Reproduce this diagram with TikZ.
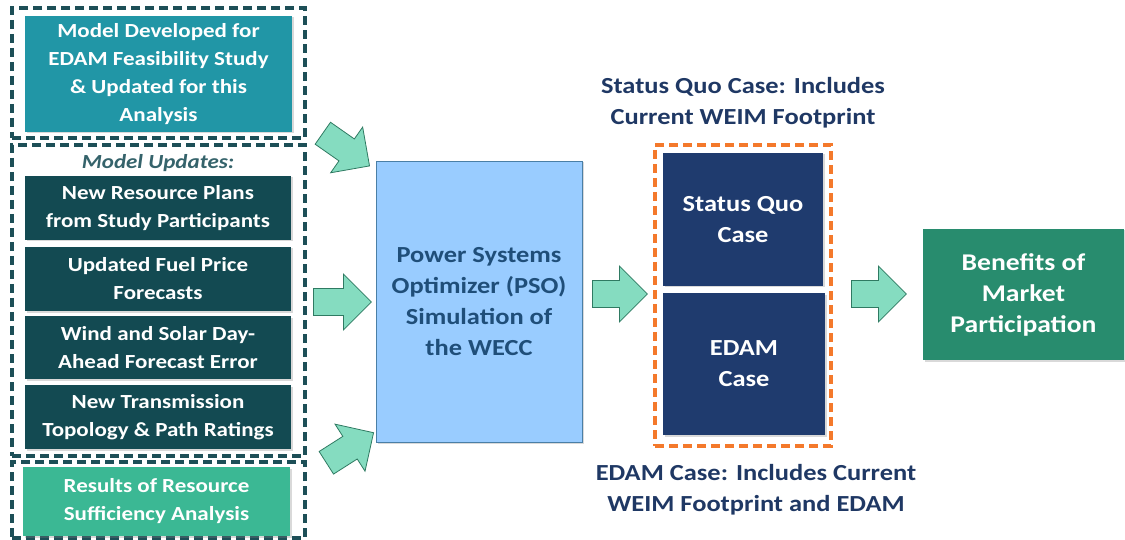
\documentclass[tikz,border=0pt]{standalone}
\usepackage{fontspec}
\setmainfont{Carlito}[FakeStretch=1.15]
\usepackage{xcolor}
\usetikzlibrary{shapes.arrows,shadows}
\definecolor{dashteal}{HTML}{1D4F57}
\definecolor{feasteal}{HTML}{2196A6}
\definecolor{updteal}{HTML}{134A52}
\definecolor{updtext}{HTML}{35636B}
\definecolor{rsgreen}{HTML}{3BB894}
\definecolor{psofill}{HTML}{99CCFF}
\definecolor{psoline}{HTML}{4A7FA6}
\definecolor{psotext}{HTML}{1F4E79}
\definecolor{casenavy}{HTML}{1F3B6E}
\definecolor{labelblue}{HTML}{1F3864}
\definecolor{caseorange}{HTML}{F4792B}
\definecolor{bengreen}{HTML}{288C6E}
\definecolor{arrowfill}{HTML}{85DCC0}
\definecolor{arrowline}{HTML}{2F7A62}

\begin{document}
\begin{tikzpicture}[x=1pt, y=-1pt,
  dashbox/.style={draw=dashteal, line width=3.2pt, dash pattern=on 9pt off 5pt, minimum width=293pt, inner sep=0pt},
  inbox/.style={fill=#1, text=white, font=\fontsize{20}{28}\selectfont\bfseries, align=center, inner sep=0pt,
    drop shadow={shadow xshift=1.5pt, shadow yshift=-1.5pt, opacity=0.3}},
  bigbox/.style={font=\fontsize{23}{31}\selectfont\bfseries, align=center, inner sep=0pt,
    drop shadow={shadow xshift=1.5pt, shadow yshift=-1.5pt, opacity=0.3}},
  caselabel/.style={text=labelblue, font=\fontsize{23}{31}\selectfont\bfseries, align=center},
  blockarrow/.style={single arrow, draw=arrowline, fill=arrowfill, line width=0.8pt, inner xsep=0pt, inner ysep=13pt,
    minimum height=#1, minimum width=55pt, single arrow head extend=14.5pt, anchor=tail}]
  \useasboundingbox (0,0) rectangle (1125,540);
  % Feasibility model
  \node[dashbox, minimum height=130pt] (feasframe) at (158.5,73) {};
  \node[inbox=feasteal, minimum width=267pt, minimum height=116pt] (feas) at (158.5,74)
    {Model Developed for\\EDAM Feasibility Study\\\& Updated for this\\Analysis};
  % Model updates
  \node[dashbox, minimum height=311pt] (updframe) at (158.5,300.5) {};
  \node[text=updtext, font=\fontsize{20}{28}\selectfont\bfseries\itshape] (updtitle) at (158,163) {Model Updates:};
  \foreach \y/\h/\n/\t in {208/64/upd1/{New Resource Plans\\from Study Participants},
                           279/64/upd2/{Updated Fuel Price\\Forecasts},
                           347.5/63/upd3/{Wind and Solar Day-\\Ahead Forecast Error},
                           417/64/upd4/{New Transmission\\Topology \& Path Ratings}} {
    \node[inbox=updteal, minimum width=266pt, minimum height=\h pt] (\n) at (158,\y) {\t};
  }
  % Resource sufficiency
  \node[dashbox, minimum height=76pt] (rsframe) at (158.5,500) {};
  \node[inbox=rsgreen, minimum width=267pt, minimum height=69pt] (rs) at (156.5,501.5)
    {Results of Resource\\Sufficiency Analysis};
  % PSO
  \node[bigbox, draw=psoline, fill=psofill, text=psotext, minimum width=206pt, minimum height=281pt] (pso) at (479,301.5)
    {Power Systems\\Optimizer (PSO)\\Simulation of\\the WECC};
  % Cases
  \node[bigbox, fill=casenavy, text=white, minimum width=160pt, minimum height=133pt] (sq) at (743,219.5) {Status Quo\\Case};
  \node[bigbox, fill=casenavy, text=white, minimum width=162pt, minimum height=142pt] (edam) at (744,364) {EDAM\\Case};
  \node[draw=caseorange, line width=3.2pt, dash pattern=on 9pt off 5pt, minimum width=176pt, minimum height=301pt, inner sep=0pt] (caseframe) at (743,295.5) {};
  \node[caselabel] (sqlabel) at (743,102.5) {Status Quo Case: Includes\\Current WEIM Footprint};
  \node[caselabel] (edamlabel) at (756,490) {EDAM Case: Includes Current\\WEIM Footprint and EDAM};
  % Benefits
  \node[bigbox, fill=bengreen, text=white, font=\fontsize{24}{31}\selectfont\bfseries, minimum width=201pt, minimum height=131pt] (ben) at (1023.5,294.5)
    {Benefits of\\Market\\Participation};
  % Block arrows
  \node[blockarrow=57pt, rotate=-35] (arrfeas) at (322.5,133) {};
  \node[blockarrow=58pt] (arrupd) at (313,302) {};
  \node[blockarrow=56pt, rotate=32.5] (arrrs) at (326,463) {};
  \node[blockarrow=55pt] (arrpso) at (592,294) {};
  \node[blockarrow=55pt] (arrcase) at (851,294) {};
\end{tikzpicture}
\end{document}
